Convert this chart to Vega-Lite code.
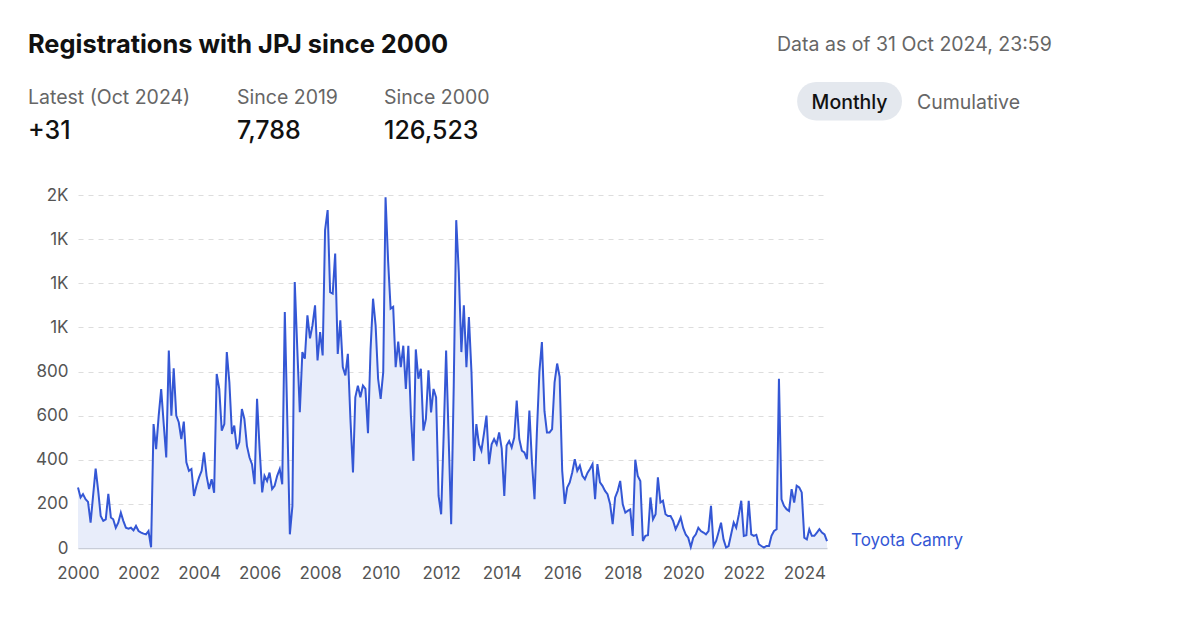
{
  "$schema": "https://vega.github.io/schema/vega-lite/v6.json",
  "padding": {"left": 28, "top": 20, "right": 0, "bottom": 0},
  "background": "white",
  "config": {"view": {"stroke": null}, "font": "Inter"},
  "datasets": {
    "reg": [
      {"month":"2000-01-01","count":274},{"month":"2000-02-01","count":229},{"month":"2000-03-01","count":244},{"month":"2000-04-01","count":221},{"month":"2000-05-01","count":209},{"month":"2000-06-01","count":115},{"month":"2000-07-01","count":236},{"month":"2000-08-01","count":360},{"month":"2000-09-01","count":259},{"month":"2000-10-01","count":145},{"month":"2000-11-01","count":123},{"month":"2000-12-01","count":130},
      {"month":"2001-01-01","count":245},{"month":"2001-02-01","count":138},{"month":"2001-03-01","count":130},{"month":"2001-04-01","count":92},{"month":"2001-05-01","count":115},{"month":"2001-06-01","count":160},{"month":"2001-07-01","count":123},{"month":"2001-08-01","count":92},{"month":"2001-09-01","count":88},{"month":"2001-10-01","count":92},{"month":"2001-11-01","count":80},{"month":"2001-12-01","count":100},
      {"month":"2002-01-01","count":77},{"month":"2002-02-01","count":70},{"month":"2002-03-01","count":65},{"month":"2002-04-01","count":62},{"month":"2002-05-01","count":77},{"month":"2002-06-01","count":3},{"month":"2002-07-01","count":562},{"month":"2002-08-01","count":448},{"month":"2002-09-01","count":600},{"month":"2002-10-01","count":720},{"month":"2002-11-01","count":560},{"month":"2002-12-01","count":410},
      {"month":"2003-01-01","count":895},{"month":"2003-02-01","count":600},{"month":"2003-03-01","count":815},{"month":"2003-04-01","count":600},{"month":"2003-05-01","count":570},{"month":"2003-06-01","count":494},{"month":"2003-07-01","count":573},{"month":"2003-08-01","count":388},{"month":"2003-09-01","count":350},{"month":"2003-10-01","count":358},{"month":"2003-11-01","count":236},{"month":"2003-12-01","count":282},
      {"month":"2004-01-01","count":320},{"month":"2004-02-01","count":350},{"month":"2004-03-01","count":433},{"month":"2004-04-01","count":327},{"month":"2004-05-01","count":267},{"month":"2004-06-01","count":312},{"month":"2004-07-01","count":250},{"month":"2004-08-01","count":789},{"month":"2004-09-01","count":721},{"month":"2004-10-01","count":532},{"month":"2004-11-01","count":562},{"month":"2004-12-01","count":888},
      {"month":"2005-01-01","count":751},{"month":"2005-02-01","count":517},{"month":"2005-03-01","count":555},{"month":"2005-04-01","count":448},{"month":"2005-05-01","count":479},{"month":"2005-06-01","count":630},{"month":"2005-07-01","count":585},{"month":"2005-08-01","count":463},{"month":"2005-09-01","count":410},{"month":"2005-10-01","count":380},{"month":"2005-11-01","count":289},{"month":"2005-12-01","count":676},
      {"month":"2006-01-01","count":448},{"month":"2006-02-01","count":252},{"month":"2006-03-01","count":327},{"month":"2006-04-01","count":304},{"month":"2006-05-01","count":342},{"month":"2006-06-01","count":267},{"month":"2006-07-01","count":282},{"month":"2006-08-01","count":327},{"month":"2006-09-01","count":358},{"month":"2006-10-01","count":289},{"month":"2006-11-01","count":1070},{"month":"2006-12-01","count":585},
      {"month":"2007-01-01","count":62},{"month":"2007-02-01","count":191},{"month":"2007-03-01","count":1206},{"month":"2007-04-01","count":900},{"month":"2007-05-01","count":615},{"month":"2007-06-01","count":888},{"month":"2007-07-01","count":858},{"month":"2007-08-01","count":1055},{"month":"2007-09-01","count":950},{"month":"2007-10-01","count":1009},{"month":"2007-11-01","count":1100},{"month":"2007-12-01","count":850},
      {"month":"2008-01-01","count":979},{"month":"2008-02-01","count":873},{"month":"2008-03-01","count":1441},{"month":"2008-04-01","count":1532},{"month":"2008-05-01","count":1160},{"month":"2008-06-01","count":1153},{"month":"2008-07-01","count":1335},{"month":"2008-08-01","count":880},{"month":"2008-09-01","count":1032},{"month":"2008-10-01","count":820},{"month":"2008-11-01","count":782},{"month":"2008-12-01","count":880},
      {"month":"2009-01-01","count":585},{"month":"2009-02-01","count":342},{"month":"2009-03-01","count":683},{"month":"2009-04-01","count":736},{"month":"2009-05-01","count":683},{"month":"2009-06-01","count":736},{"month":"2009-07-01","count":721},{"month":"2009-08-01","count":520},{"month":"2009-09-01","count":900},{"month":"2009-10-01","count":1130},{"month":"2009-11-01","count":1009},{"month":"2009-12-01","count":767},
      {"month":"2010-01-01","count":676},{"month":"2010-02-01","count":797},{"month":"2010-03-01","count":1590},{"month":"2010-04-01","count":1300},{"month":"2010-05-01","count":1085},{"month":"2010-06-01","count":1093},{"month":"2010-07-01","count":820},{"month":"2010-08-01","count":935},{"month":"2010-09-01","count":820},{"month":"2010-10-01","count":917},{"month":"2010-11-01","count":721},{"month":"2010-12-01","count":917},
      {"month":"2011-01-01","count":600},{"month":"2011-02-01","count":395},{"month":"2011-03-01","count":900},{"month":"2011-04-01","count":767},{"month":"2011-05-01","count":812},{"month":"2011-06-01","count":532},{"month":"2011-07-01","count":585},{"month":"2011-08-01","count":805},{"month":"2011-09-01","count":615},{"month":"2011-10-01","count":721},{"month":"2011-11-01","count":683},{"month":"2011-12-01","count":236},
      {"month":"2012-01-01","count":153},{"month":"2012-02-01","count":520},{"month":"2012-03-01","count":895},{"month":"2012-04-01","count":494},{"month":"2012-05-01","count":108},{"month":"2012-06-01","count":736},{"month":"2012-07-01","count":1486},{"month":"2012-08-01","count":1250},{"month":"2012-09-01","count":888},{"month":"2012-10-01","count":1100},{"month":"2012-11-01","count":820},{"month":"2012-12-01","count":1047},
      {"month":"2013-01-01","count":797},{"month":"2013-02-01","count":395},{"month":"2013-03-01","count":562},{"month":"2013-04-01","count":470},{"month":"2013-05-01","count":441},{"month":"2013-06-01","count":520},{"month":"2013-07-01","count":600},{"month":"2013-08-01","count":380},{"month":"2013-09-01","count":470},{"month":"2013-10-01","count":494},{"month":"2013-11-01","count":470},{"month":"2013-12-01","count":524},
      {"month":"2014-01-01","count":450},{"month":"2014-02-01","count":236},{"month":"2014-03-01","count":464},{"month":"2014-04-01","count":485},{"month":"2014-05-01","count":456},{"month":"2014-06-01","count":501},{"month":"2014-07-01","count":668},{"month":"2014-08-01","count":494},{"month":"2014-09-01","count":441},{"month":"2014-10-01","count":433},{"month":"2014-11-01","count":403},{"month":"2014-12-01","count":623},
      {"month":"2015-01-01","count":388},{"month":"2015-02-01","count":221},{"month":"2015-03-01","count":520},{"month":"2015-04-01","count":800},{"month":"2015-05-01","count":933},{"month":"2015-06-01","count":620},{"month":"2015-07-01","count":524},{"month":"2015-08-01","count":524},{"month":"2015-09-01","count":539},{"month":"2015-10-01","count":751},{"month":"2015-11-01","count":836},{"month":"2015-12-01","count":776},
      {"month":"2016-01-01","count":350},{"month":"2016-02-01","count":200},{"month":"2016-03-01","count":274},{"month":"2016-04-01","count":297},{"month":"2016-05-01","count":342},{"month":"2016-06-01","count":403},{"month":"2016-07-01","count":350},{"month":"2016-08-01","count":373},{"month":"2016-09-01","count":327},{"month":"2016-10-01","count":312},{"month":"2016-11-01","count":340},{"month":"2016-12-01","count":358},
      {"month":"2017-01-01","count":380},{"month":"2017-02-01","count":221},{"month":"2017-03-01","count":380},{"month":"2017-04-01","count":297},{"month":"2017-05-01","count":282},{"month":"2017-06-01","count":259},{"month":"2017-07-01","count":244},{"month":"2017-08-01","count":200},{"month":"2017-09-01","count":108},{"month":"2017-10-01","count":229},{"month":"2017-11-01","count":259},{"month":"2017-12-01","count":304},
      {"month":"2018-01-01","count":198},{"month":"2018-02-01","count":160},{"month":"2018-03-01","count":168},{"month":"2018-04-01","count":175},{"month":"2018-05-01","count":55},{"month":"2018-06-01","count":400},{"month":"2018-07-01","count":327},{"month":"2018-08-01","count":304},{"month":"2018-09-01","count":32},{"month":"2018-10-01","count":55},{"month":"2018-11-01","count":58},{"month":"2018-12-01","count":229},
      {"month":"2019-01-01","count":130},{"month":"2019-02-01","count":153},{"month":"2019-03-01","count":320},{"month":"2019-04-01","count":206},{"month":"2019-05-01","count":214},{"month":"2019-06-01","count":153},{"month":"2019-07-01","count":145},{"month":"2019-08-01","count":145},{"month":"2019-09-01","count":123},{"month":"2019-10-01","count":85},{"month":"2019-11-01","count":110},{"month":"2019-12-01","count":138},
      {"month":"2020-01-01","count":90},{"month":"2020-02-01","count":60},{"month":"2020-03-01","count":47},{"month":"2020-04-01","count":5},{"month":"2020-05-01","count":47},{"month":"2020-06-01","count":62},{"month":"2020-07-01","count":92},{"month":"2020-08-01","count":77},{"month":"2020-09-01","count":70},{"month":"2020-10-01","count":62},{"month":"2020-11-01","count":77},{"month":"2020-12-01","count":191},
      {"month":"2021-01-01","count":9},{"month":"2021-02-01","count":32},{"month":"2021-03-01","count":70},{"month":"2021-04-01","count":115},{"month":"2021-05-01","count":39},{"month":"2021-06-01","count":2},{"month":"2021-07-01","count":9},{"month":"2021-08-01","count":62},{"month":"2021-09-01","count":115},{"month":"2021-10-01","count":92},{"month":"2021-11-01","count":150},{"month":"2021-12-01","count":214},
      {"month":"2022-01-01","count":55},{"month":"2022-02-01","count":58},{"month":"2022-03-01","count":214},{"month":"2022-04-01","count":62},{"month":"2022-05-01","count":55},{"month":"2022-06-01","count":60},{"month":"2022-07-01","count":17},{"month":"2022-08-01","count":9},{"month":"2022-09-01","count":2},{"month":"2022-10-01","count":9},{"month":"2022-11-01","count":9},{"month":"2022-12-01","count":55},
      {"month":"2023-01-01","count":77},{"month":"2023-02-01","count":85},{"month":"2023-03-01","count":767},{"month":"2023-04-01","count":221},{"month":"2023-05-01","count":191},{"month":"2023-06-01","count":176},{"month":"2023-07-01","count":168},{"month":"2023-08-01","count":267},{"month":"2023-09-01","count":206},{"month":"2023-10-01","count":282},{"month":"2023-11-01","count":274},{"month":"2023-12-01","count":252},
      {"month":"2024-01-01","count":47},{"month":"2024-02-01","count":39},{"month":"2024-03-01","count":85},{"month":"2024-04-01","count":55},{"month":"2024-05-01","count":55},{"month":"2024-06-01","count":70},{"month":"2024-07-01","count":85},{"month":"2024-08-01","count":70},{"month":"2024-09-01","count":62},{"month":"2024-10-01","count":31}
    ]
  },
  "spacing": 0,
  "vconcat": [
    {
      "bounds": "flush",
      "spacing": 0,
      "hconcat": [
        {
          "width": 749, "height": 50,
          "data": {"values": [{"text": "Registrations with JPJ since 2000"}]},
          "mark": {"type": "text", "align": "left", "baseline": "middle", "fontSize": 25.4, "fontWeight": "bold", "color": "#111111"},
          "encoding": {
            "text": {"field": "text"},
            "x": {"field": "text", "type": "nominal", "axis": null, "bandPosition": 0, "scale": {"type": "band", "paddingInner": 0, "paddingOuter": 0}}
          }
        },
        {
          "width": 280, "height": 50,
          "data": {"values": [{"text": "Data as of 31 Oct 2024, 23:59"}]},
          "mark": {"type": "text", "align": "left", "baseline": "middle", "fontSize": 19.5, "dy": 0, "color": "#666666"},
          "encoding": {
            "text": {"field": "text"},
            "x": {"field": "text", "type": "nominal", "axis": null, "bandPosition": 0, "scale": {"type": "band", "paddingInner": 0, "paddingOuter": 0}}
          }
        }
      ]
    },
    {
      "bounds": "flush",
      "spacing": 0,
      "hconcat": [
        {
          "width": 209, "height": 116,
          "data": {"values": [{"label": "Latest (Oct 2024)", "value": "+31"}]},
          "encoding": {"x": {"field": "label", "type": "nominal", "axis": null, "bandPosition": 0, "scale": {"type": "band", "paddingInner": 0, "paddingOuter": 0}}},
          "layer": [
            {"mark": {"type": "text", "align": "left", "baseline": "middle", "fontSize": 19.5, "dy": -30, "color": "#666666"}, "encoding": {"text": {"field": "label"}}},
            {"mark": {"type": "text", "align": "left", "baseline": "middle", "fontSize": 25, "fontWeight": 500, "dy": 3, "color": "#111111"}, "encoding": {"text": {"field": "value"}}}
          ]
        },
        {
          "width": 147, "height": 116,
          "data": {"values": [{"label": "Since 2019", "value": "7,788"}]},
          "encoding": {"x": {"field": "label", "type": "nominal", "axis": null, "bandPosition": 0, "scale": {"type": "band", "paddingInner": 0, "paddingOuter": 0}}},
          "layer": [
            {"mark": {"type": "text", "align": "left", "baseline": "middle", "fontSize": 19.5, "dy": -30, "color": "#666666"}, "encoding": {"text": {"field": "label"}}},
            {"mark": {"type": "text", "align": "left", "baseline": "middle", "fontSize": 25, "fontWeight": 500, "dy": 3, "color": "#111111"}, "encoding": {"text": {"field": "value"}}}
          ]
        },
        {
          "width": 406, "height": 116,
          "data": {"values": [{"label": "Since 2000", "value": "126,523"}]},
          "encoding": {"x": {"field": "label", "type": "nominal", "axis": null, "bandPosition": 0, "scale": {"type": "band", "paddingInner": 0, "paddingOuter": 0}}},
          "layer": [
            {"mark": {"type": "text", "align": "left", "baseline": "middle", "fontSize": 19.5, "dy": -30, "color": "#666666"}, "encoding": {"text": {"field": "label"}}},
            {"mark": {"type": "text", "align": "left", "baseline": "middle", "fontSize": 25, "fontWeight": 500, "dy": 3, "color": "#111111"}, "encoding": {"text": {"field": "value"}}}
          ]
        },
        {
          "width": 238, "height": 116,
          "data": {"values": [{"option": "Monthly"}, {"option": "Cumulative"}]},
          "encoding": {"x": {"field": "option", "type": "nominal", "axis": null, "scale": {"type": "band", "domain": ["Monthly", "Cumulative"], "paddingInner": 0.118, "paddingOuter": 0.06}}},
          "layer": [
            {
              "transform": [{"filter": "datum.option == 'Monthly'"}],
              "mark": {"type": "bar", "cornerRadius": 19, "color": "#e4e8ee"},
              "encoding": {"y": {"datum": "toggle", "type": "nominal", "axis": null, "scale": {"type": "band", "paddingInner": 0, "paddingOuter": 1.0263, "align": 0.1538}}}
            },
            {
              "transform": [{"filter": "datum.option == 'Monthly'"}],
              "mark": {"type": "text", "baseline": "middle", "fontSize": 19.5, "fontWeight": 500, "dy": -25, "color": "#111111"},
              "encoding": {"text": {"field": "option"}}
            },
            {
              "transform": [{"filter": "datum.option == 'Cumulative'"}],
              "mark": {"type": "text", "baseline": "middle", "fontSize": 19.5, "dy": -25, "color": "#666666"},
              "encoding": {"text": {"field": "option"}}
            }
          ]
        }
      ]
    },
    {
      "bounds": "flush",
      "spacing": 0,
      "hconcat": [
        {
          "width": 50, "height": 353,
          "data": {"values": [{}]},
          "mark": {"type": "text", "text": ""}
        },
        {
          "width": 749, "height": 353,
          "data": {"name": "reg"},
          "encoding": {
            "x": {
              "field": "month", "type": "temporal",
              "scale": {"type": "utc", "domain": [{"year": 2000, "month": 1, "date": 1, "utc": true}, {"year": 2024, "month": 10, "date": 1, "utc": true}]},
              "axis": {"title": null, "format": "%Y", "tickCount": {"interval": "year", "step": 2}, "ticks": false, "grid": false, "labelFlush": false, "domainColor": "#c8cdd8", "domainWidth": 1.5, "labelFontSize": 17, "labelColor": "#555555", "labelPadding": 17}
            },
            "y": {
              "field": "count", "type": "quantitative",
              "scale": {"domain": [0, 1600], "nice": false},
              "axis": {"title": null, "values": [0, 200, 400, 600, 800, 1000, 1200, 1400, 1600], "labelExpr": "datum.value >= 1000 ? format(datum.value / 1000, '.0f') + 'K' : format(datum.value, 'd')", "ticks": false, "domain": false, "grid": true, "gridDash": [5, 5], "gridColor": "#dddddd", "labelFontSize": 17, "labelColor": "#555555", "labelPadding": 10}
            }
          },
          "layer": [
            {"mark": {"type": "area", "color": "#e8edfa", "opacity": 1}},
            {"mark": {"type": "line", "color": "#3457d5", "strokeWidth": 2}},
            {
              "transform": [{"filter": "utcyear(datum.month) == 2024 && utcmonth(datum.month) == 9"}],
              "mark": {"type": "text", "align": "left", "baseline": "middle", "dx": 24, "fontSize": 17, "color": "#3457d5"},
              "encoding": {"text": {"value": "Toyota Camry"}}
            }
          ]
        }
      ]
    }
  ]
}
